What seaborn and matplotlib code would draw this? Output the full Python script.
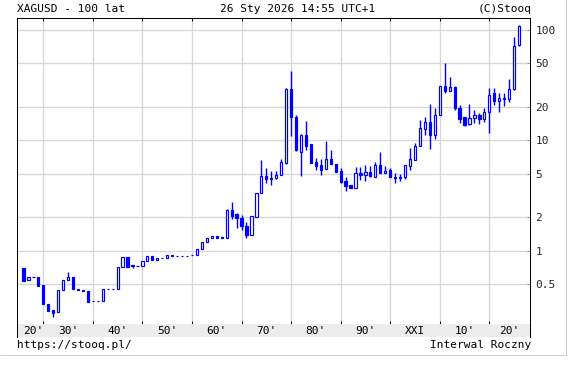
import matplotlib
matplotlib.use("Agg")
import matplotlib.pyplot as plt
import matplotlib.transforms as mtransforms
from matplotlib.lines import Line2D
import seaborn as sns
import numpy as np
import pandas as pd

# ---------------- data (yearly OHLC, XAGUSD) ----------------
years = list(range(1926, 2027))
open_ = [0.69, 0.538, 0.576, 0.573, 0.488, 0.326, 0.289, 0.275, 0.439, 0.538,
         0.573, 0.451, 0.442, 0.433, 0.348, 0.348, 0.347, 0.446, 0.446, 0.445,
         0.706, 0.871, 0.74, 0.732, 0.72, 0.806, 0.889, 0.818, 0.855, 0.853,
         0.906, 0.901, 0.896, 0.899, 0.909, 0.905, 1.03, 1.19, 1.29, 1.35,
         1.32, 1.31, 2.34, 2.14, 1.97, 1.68, 1.39, 2.04, 3.33, 4.75,
         4.61, 4.55, 4.88, 6.2, 29.3, 16.3, 7.9, 11.3, 9.26, 6.35,
         6.0, 5.5, 6.8, 6.1, 5.3, 4.30, 3.96, 3.69, 5.1, 4.85,
         5.2, 4.7, 6.0, 5.05, 5.35, 4.7, 4.58, 4.7, 5.9, 6.67,
         8.9, 12.8, 14.7, 11.3, 17.0, 31.2, 28.1, 30.6, 19.8, 16.3,
         14.0, 16.1, 17.0, 15.7, 18.1, 26.7, 23.0, 23.8, 23.9, 29.5,
         73.0]
close = [0.53, 0.577, 0.572, 0.481, 0.326, 0.285, 0.273, 0.439, 0.541, 0.573,
         0.445, 0.436, 0.427, 0.344, 0.346, 0.346, 0.445, 0.444, 0.444, 0.706,
         0.871, 0.706, 0.72, 0.728, 0.806, 0.889, 0.82, 0.853, 0.865, 0.905,
         0.903, 0.898, 0.893, 0.902, 0.907, 1.03, 1.19, 1.30, 1.35, 1.30,
         1.29, 2.34, 2.08, 1.97, 1.67, 1.39, 2.06, 3.33, 4.75, 4.46,
         4.49, 4.88, 6.35, 29.3, 16.3, 8.2, 11.3, 9.0, 6.3, 5.88,
         5.42, 6.77, 6.1, 5.16, 4.19, 3.87, 3.69, 5.05, 4.85, 5.17,
         4.77, 6.0, 5.05, 5.3, 4.64, 4.58, 4.65, 5.98, 6.8, 8.95,
         13.0, 14.7, 11.3, 17.0, 31.2, 28.1, 30.6, 19.8, 15.8, 13.8,
         16.1, 17.0, 15.6, 18.1, 26.1, 23.0, 24.4, 24.2, 29.5, 72.0,
         108.9]
high = [0.69, 0.577, 0.576, 0.573, 0.488, 0.326, 0.289, 0.439, 0.541, 0.636,
        0.573, 0.451, 0.442, 0.433, 0.348, 0.348, 0.445, 0.446, 0.446, 0.706,
        0.871, 0.871, 0.74, 0.732, 0.806, 0.889, 0.889, 0.853, 0.865, 0.905,
        0.906, 0.901, 0.896, 0.902, 0.909, 1.03, 1.19, 1.30, 1.35, 1.35,
        1.32, 2.37, 2.75, 2.21, 2.11, 1.82, 2.06, 3.33, 6.58, 5.65,
        5.3, 5.3, 6.8, 29.8, 43.0, 17.1, 11.5, 15.1, 9.3, 6.9,
        6.77, 9.9, 8.2, 6.1, 5.6, 4.65, 3.96, 5.7, 5.7, 5.98,
        5.9, 6.4, 7.84, 5.9, 5.6, 5.05, 5.0, 5.98, 8.5, 9.45,
        15.5, 16.4, 21.6, 19.8, 31.2, 50.9, 37.8, 31.0, 21.2, 16.4,
        21.6, 19.1, 17.9, 19.8, 30.1, 30.1, 27.0, 27.0, 35.9, 86.5,
        112.7]
low = [0.53, 0.538, 0.572, 0.481, 0.326, 0.285, 0.251, 0.275, 0.439, 0.538,
       0.445, 0.436, 0.427, 0.344, 0.346, 0.346, 0.347, 0.444, 0.444, 0.445,
       0.706, 0.706, 0.70, 0.728, 0.72, 0.806, 0.82, 0.818, 0.855, 0.853,
       0.903, 0.898, 0.893, 0.899, 0.907, 0.905, 1.03, 1.19, 1.29, 1.30,
       1.29, 1.31, 1.93, 1.60, 1.54, 1.31, 1.39, 2.04, 3.33, 4.15,
       3.98, 4.46, 4.88, 6.1, 11.0, 8.08, 4.77, 8.2, 6.3, 5.42,
       4.88, 5.5, 6.1, 5.16, 4.1, 3.51, 3.69, 3.69, 4.35, 4.32,
       4.7, 4.7, 5.05, 5.05, 4.64, 4.1, 4.3, 4.46, 5.4, 6.67,
       8.9, 11.3, 8.44, 10.4, 17.0, 27.0, 28.0, 19.1, 14.5, 13.6,
       13.7, 14.5, 14.2, 14.8, 11.8, 21.0, 18.1, 20.5, 22.3, 28.5,
       72.0]

ytick_vals = [0.5, 1, 2, 5, 10, 20, 50, 100]
ytick_labels = ["0.5", "1", "2", "5", "10", "20", "50", "100"]
decades = list(range(1930, 2030, 10))
xlab_pos = [1928, 1935, 1945, 1955, 1965, 1975, 1985, 1995, 2005, 2015, 2024]
xlab_txt = ["20'", "30'", "40'", "50'", "60'", "70'", "80'", "90'", "XXI", "10'", "20'"]

df = pd.DataFrame({"year": years, "open": open_, "high": high, "low": low, "close": close})
df["up"] = df["close"] >= df["open"]
df["bot"] = df[["open", "close"]].min(axis=1)
df["top"] = df[["open", "close"]].max(axis=1)

# ---------------- style ----------------
sns.set_style("white")
plt.rcParams["font.family"] = ["DejaVu Sans Mono"]
FS = 8
BLUE = "#0000ff"
GRID = "#d6d6d6"
PX = 0.72  # one pixel in points at 100 dpi

W, H = 575, 365
fig = plt.figure(figsize=(W / 100, H / 100), dpi=100)
fig.patch.set_facecolor("white")

L, R, T, B = 17, 530, 18, 324
ax = fig.add_axes([L / W, (H - B) / H, (R - L) / W, (B - T) / H])
ax.set_facecolor("white")
ax.set_yscale("log")
ax.set_xlim(1924.69, 2028.21)
ax.set_ylim(0.2157, 129.4)

# grid
for d in decades:
    ax.axvline(d, color=GRID, lw=1.3 * PX, zorder=0)
for v in ytick_vals:
    ax.axhline(v, color=GRID, lw=1.3 * PX, zorder=0)

# wicks
ax.vlines(df["year"], df["low"], df["high"], color=BLUE, lw=1.4 * PX, zorder=2)
# bodies
bw = 0.45
upd = df[df["up"]]
dnd = df[~df["up"]]
ax.bar(upd["year"], upd["top"] - upd["bot"], bottom=upd["bot"], width=bw,
       facecolor="white", edgecolor=BLUE, linewidth=1.2 * PX, zorder=3)
ax.bar(dnd["year"], dnd["top"] - dnd["bot"], bottom=dnd["bot"], width=bw,
       facecolor=BLUE, edgecolor=BLUE, linewidth=1.2 * PX, zorder=3)

# axes / ticks
ax.yaxis.tick_right()
ax.set_yticks(ytick_vals)
ax.set_yticklabels(ytick_labels)
ax.yaxis.set_minor_locator(matplotlib.ticker.NullLocator())
ax.tick_params(axis="y", which="major", direction="in", length=3 * PX, width=PX,
               color="#999999", labelsize=FS, pad=4, right=True, left=False,
               labelright=True, labelleft=False)
ax.set_xticks(decades)
ax.set_xticklabels([])
ax.tick_params(axis="x", which="major", direction="in", length=3 * PX, width=PX,
               color="black", top=True, bottom=True, labelbottom=False)
for s in ax.spines.values():
    s.set_color("black")
    s.set_linewidth(PX)
    s.set_visible(True)

# label band under plot
B2 = 337
ax2 = fig.add_axes([L / W, (H - B2) / H, (R - L) / W, (B2 - B) / H])
ax2.set_facecolor("#ececec")
ax2.set_xlim(ax.get_xlim())
ax2.set_ylim(0, 1)
ax2.set_xticks([])
ax2.set_yticks([])
for k, s in ax2.spines.items():
    s.set_color("black")
    s.set_linewidth(PX)
ax2.spines["top"].set_visible(False)
ax2.spines["bottom"].set_visible(False)
for xp, t in zip(xlab_pos, xlab_txt):
    ax2.text(xp, 0.45, t, ha="center", va="center", fontsize=FS, color="black")

# header / footer texts
def ft(x, y, s, ha):
    fig.text(x / W, 1 - y / H, s, ha=ha, va="center", fontsize=FS, color="black")

ft(17, 9, "XAGUSD - 100 lat", "left")
ft(298, 9, "26 Sty 2026 14:55 UTC+1", "center")
ft(532, 9, "(C)Stooq", "right")
ft(17, 345, "https://stooq.pl/", "left")
ft(531, 345, "Interwal Roczny", "right")

# outer light frame
fig.add_artist(Line2D([0, 566 / W], [1 - 355 / H, 1 - 355 / H], transform=fig.transFigure,
                      color="#d0d0d0", lw=PX))
fig.add_artist(Line2D([566 / W, 566 / W], [1 - 355 / H, 1], transform=fig.transFigure,
                      color="#d0d0d0", lw=PX))

fig.savefig("out.png", dpi=100, facecolor="white")
